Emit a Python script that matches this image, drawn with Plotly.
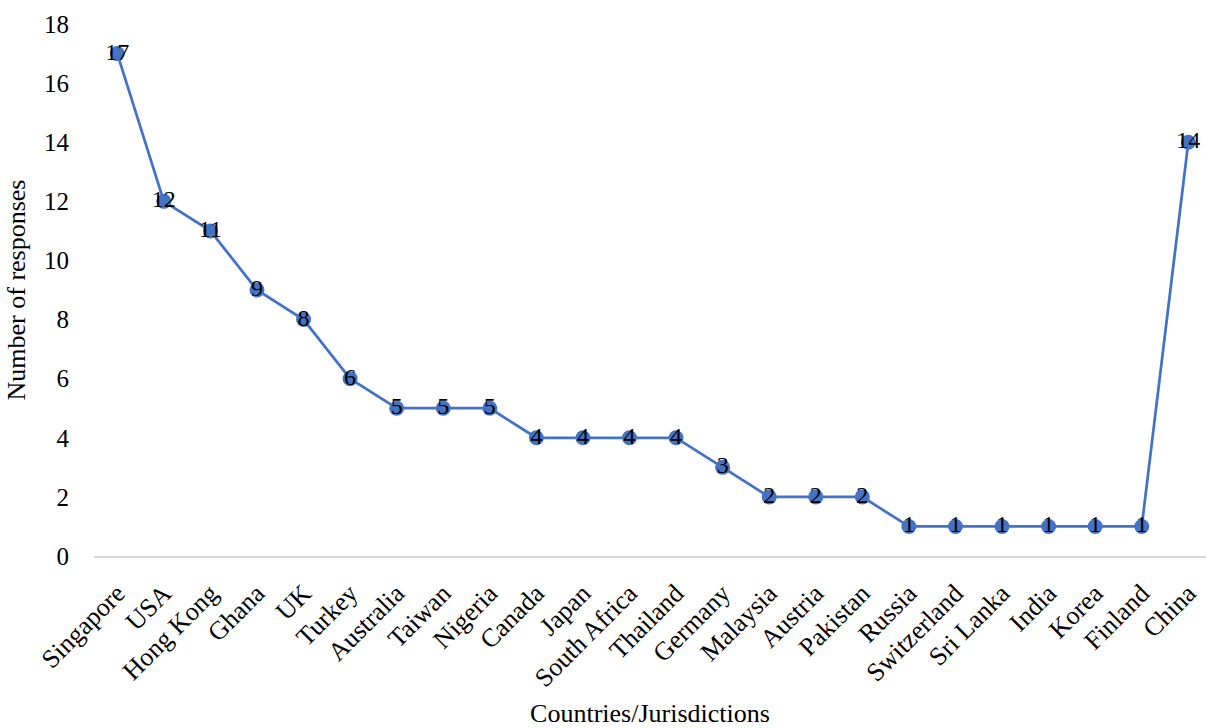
import plotly.graph_objects as go

countries = ["Singapore", "USA", "Hong Kong", "Ghana", "UK", "Turkey", "Australia", "Taiwan",
             "Nigeria", "Canada", "Japan", "South Africa", "Thailand", "Germany", "Malaysia",
             "Austria", "Pakistan", "Russia", "Switzerland", "Sri Lanka", "India", "Korea",
             "Finland", "China"]
responses = [17, 12, 11, 9, 8, 6, 5, 5, 5, 4, 4, 4, 4, 3, 2, 2, 2, 1, 1, 1, 1, 1, 1, 14]
y_ticks = [0, 2, 4, 6, 8, 10, 12, 14, 16, 18]

FONT = "Liberation Serif, Times New Roman, serif"
BLUE = "#4472C4"

fig = go.Figure()
fig.add_trace(go.Scatter(
    x=countries, y=responses, mode="lines+markers+text",
    line=dict(color=BLUE, width=2.75),
    marker=dict(color=BLUE, size=15),
    text=[str(v) for v in responses], textposition="middle center",
    textfont=dict(family=FONT, size=24, color="black"),
    cliponaxis=False, showlegend=False,
))

n = len(countries)
fig.update_layout(
    width=1206, height=728,
    margin=dict(l=94, r=0, t=24, b=172),
    paper_bgcolor="white", plot_bgcolor="white",
    font=dict(family=FONT, color="black"),
    xaxis=dict(
        type="category", range=[-0.5, n - 1 + 0.38],
        showline=True, linecolor="#D9D9D9", linewidth=1.5,
        showgrid=False, zeroline=False, ticks="", tickangle=-45,
        tickfont=dict(family=FONT, size=26, color="black"),
        ticklabelstandoff=10,
        title=dict(text="Countries/Jurisdictions", font=dict(family=FONT, size=26), standoff=16),
    ),
    yaxis=dict(
        range=[0, 18], tickvals=y_ticks, showgrid=False, zeroline=False, showline=False,
        ticks="", tickfont=dict(family=FONT, size=25, color="black"),
        ticklabelstandoff=24,
        title=dict(text="Number of responses", font=dict(family=FONT, size=26), standoff=10),
    ),
)

fig.write_html("out.html")
